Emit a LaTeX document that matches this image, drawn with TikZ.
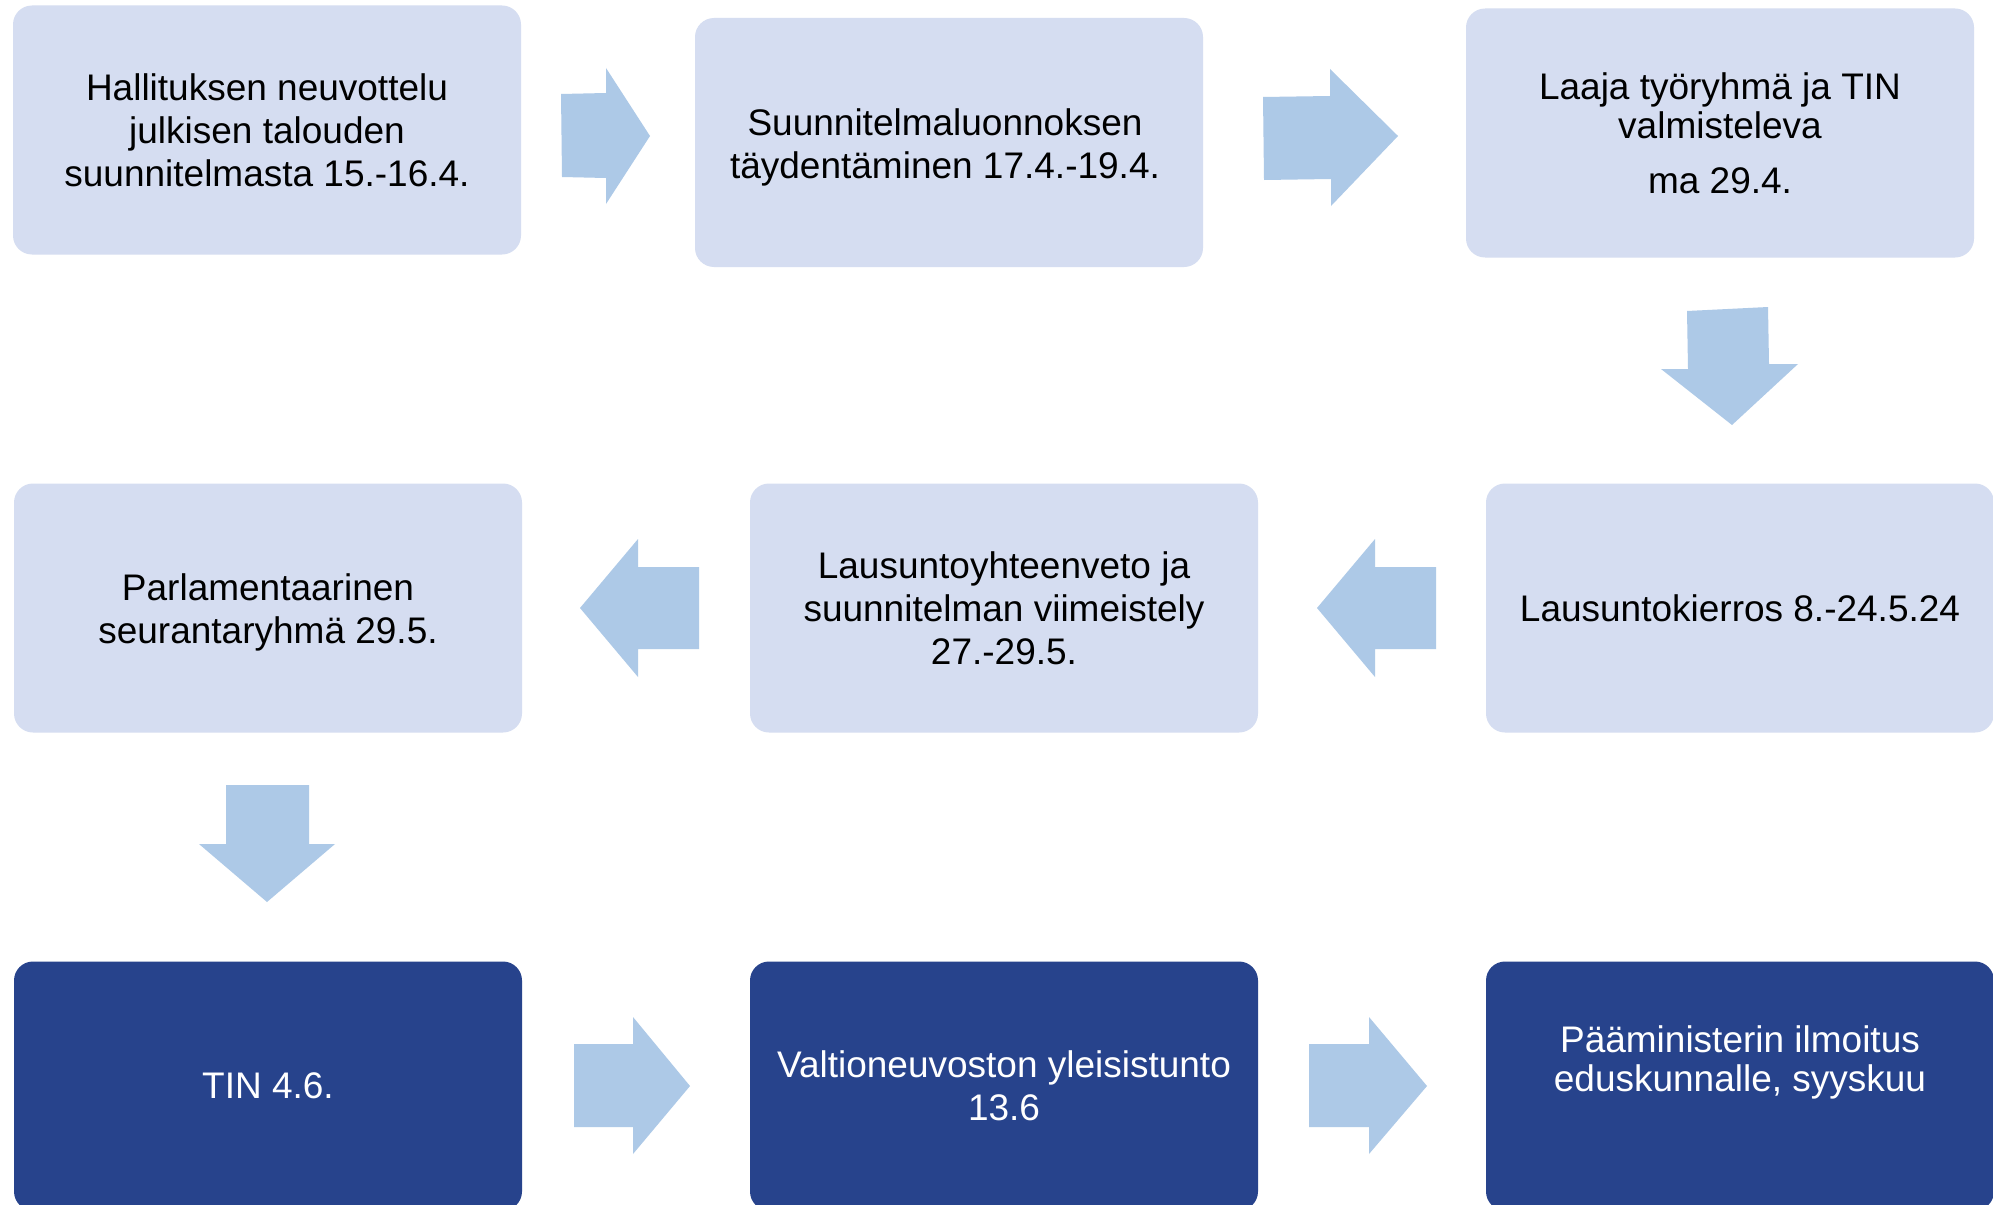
\documentclass[tikz,border=0pt]{standalone}
\usepackage{fontspec}
\setmainfont{Liberation Sans}
\definecolor{lightbox}{RGB}{213,221,241}
\definecolor{darkbox}{RGB}{39,67,140}
\definecolor{arrowblue}{RGB}{173,201,231}
\begin{document}
\begin{tikzpicture}[x=1pt,y=-1pt,
  box/.style={rectangle, rounded corners=19pt, minimum width=508pt, minimum height=249pt,
    align=center, font=\fontsize{37}{43}\selectfont, inner sep=0pt},
  lightb/.style={box, fill=lightbox, text=black},
  darkb/.style={box, fill=darkbox, text=white},
  txt/.style={align=center, font=\fontsize{37}{43}\selectfont, inner sep=0pt},
  arr/.style={fill=arrowblue}]
\useasboundingbox (0,0) rectangle (1993,1204);
\clip (0,0) rectangle (1993,1204);
\fill[white] (0,0) rectangle (1993,1204);
% row 1
\node[lightb] (b1) at (267,130) {Hallituksen neuvottelu\\julkisen talouden\\suunnitelmasta 15.-16.4.};
\node[lightb] (b2) at (949,142.5) {};
\node[txt] (t2) at (945,147) {Suunnitelmaluonnoksen\\täydentäminen 17.4.-19.4.};
\node[lightb] (b3) at (1720,133) {Laaja työryhmä ja TIN\\[-4pt]valmisteleva\\[12pt]ma 29.4.};
% row 2
\node[lightb] (b4) at (268,608) {};
\node[txt] (t4) at (268,612) {Parlamentaarinen\\seurantaryhmä 29.5.};
\node[lightb] (b5) at (1004,608) {Lausuntoyhteenveto ja\\suunnitelman viimeistely\\27.-29.5.};
\node[lightb] (b6) at (1740,608) {Lausuntokierros 8.-24.5.24};
% row 3
\node[darkb] (b7) at (268,1086) {TIN 4.6.};
\node[darkb] (b8) at (1004,1086) {Valtioneuvoston yleisistunto\\13.6};
\node[darkb] (b9) at (1740,1086) {};
\node[txt, text=white] (t9) at (1740,1062) {Pääministerin ilmoitus\\[-4pt]eduskunnalle, syyskuu};
% block arrows
\fill[arr] (561,94) -- (606,93) -- (606,68) -- (650,136) -- (606,204) -- (606,178) -- (562,177) -- cycle;
\fill[arr] (1263,97) -- (1330,96) -- (1330,69) -- (1398,136) -- (1331,206) -- (1331,179) -- (1264,180) -- cycle;
\fill[arr] (1687,311) -- (1768,307) -- (1769,364) -- (1798,364) -- (1732,425) -- (1661,369) -- (1688,369) -- cycle;
\fill[arr] (1436,567) -- (1375,567) -- (1375,539) -- (1317,608) -- (1375,677) -- (1375,649) -- (1436,649) -- cycle;
\fill[arr] (699,567) -- (638,567) -- (638,539) -- (580,608) -- (638,677) -- (638,649) -- (699,649) -- cycle;
\fill[arr] (226,785) -- (309,785) -- (309,844) -- (335,844) -- (267,902) -- (199,844) -- (226,844) -- cycle;
\fill[arr] (574,1044) -- (633,1044) -- (633,1017) -- (690,1086) -- (633,1154) -- (633,1127) -- (574,1127) -- cycle;
\fill[arr] (1309,1044) -- (1369,1044) -- (1369,1017) -- (1427,1086) -- (1369,1154) -- (1369,1127) -- (1309,1127) -- cycle;
\end{tikzpicture}
\end{document}
